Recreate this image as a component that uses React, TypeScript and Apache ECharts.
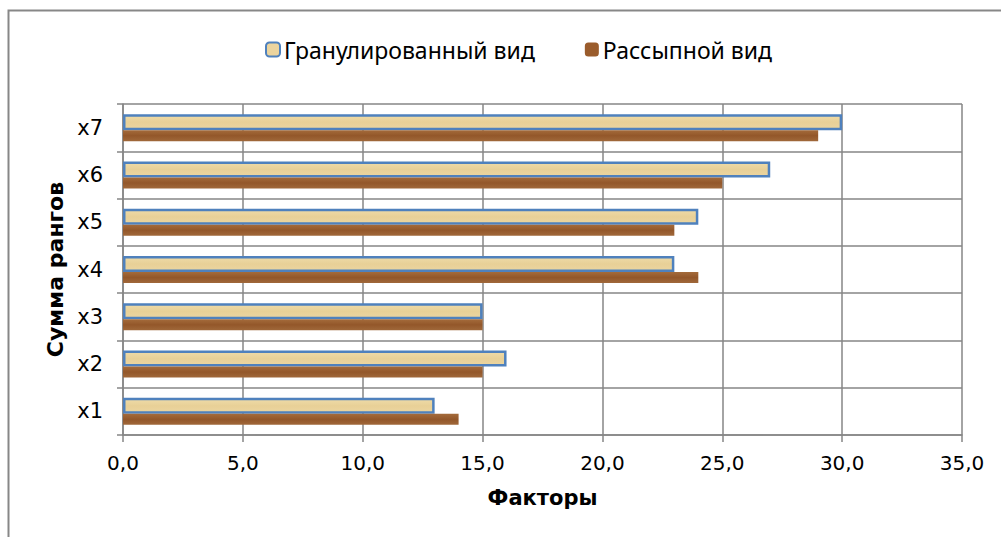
import React, { useEffect, useRef } from "react";
import * as echarts from "echarts";

const categories = ["x1", "x2", "x3", "x4", "x5", "x6", "x7"];
const granulated = [13, 16, 15, 23, 24, 27, 30];
const loose = [14, 15, 15, 24, 23, 25, 29];
const seriesNames = ["Гранулированный вид", "Рассыпной вид"];
const xAxisTitle = "Факторы";
const yAxisTitle = "Сумма рангов";

export default function App() {
  const ref = useRef<HTMLDivElement>(null);
  useEffect(() => {
    if (!ref.current) return;
    const chart = echarts.init(ref.current, undefined, { renderer: "svg" });
    const gridColor = "#868686";
    const font = "DejaVu Sans, sans-serif";
    chart.setOption({
      animation: false,
      backgroundColor: "#ffffff",
      textStyle: { fontFamily: font },
      graphic: [
        {
          type: "rect",
          shape: { x: 8.5, y: 10.5, width: 1100, height: 600 },
          style: { fill: "none", stroke: "#878787", lineWidth: 2 },
          silent: true,
        },
      ],
      legend: {
        top: 33,
        left: 260,
        itemGap: 50,
        itemWidth: 14,
        itemHeight: 14,
        textStyle: { fontSize: 23, color: "#000", fontFamily: "Noto Sans, sans-serif", padding: [0, 0, 0, -1] },
        data: [
          { name: seriesNames[0], itemStyle: { color: "#EBD49E", borderColor: "#4F81BD", borderWidth: 2 } },
          { name: seriesNames[1], itemStyle: { color: "#9A5C2C" } },
        ],
      },
      grid: { left: 123, right: 39, top: 104, bottom: 102 },
      xAxis: {
        type: "value",
        min: 0,
        max: 35,
        interval: 5,
        name: xAxisTitle,
        nameLocation: "middle",
        nameGap: 52,
        nameTextStyle: { fontSize: 21, fontWeight: "bold", color: "#000", fontFamily: font },
        axisLine: { show: true, lineStyle: { color: gridColor, width: 1.5 } },
        axisTick: { show: true, length: 7, lineStyle: { color: gridColor, width: 1.5 } },
        axisLabel: {
          fontSize: 20,
          color: "#000",
          margin: 18,
          fontFamily: font,
          formatter: (v: number) => v.toFixed(1).replace(".", ","),
        },
        splitLine: { show: true, lineStyle: { color: gridColor, width: 1.5 } },
      },
      yAxis: {
        type: "category",
        data: categories,
        name: yAxisTitle,
        nameLocation: "middle",
        nameGap: 55,
        nameTextStyle: { fontSize: 22, fontWeight: "bold", color: "#000", fontFamily: font },
        axisLine: { show: true, lineStyle: { color: gridColor, width: 1.5 } },
        axisTick: { show: true, length: 6, lineStyle: { color: gridColor, width: 1.5 } },
        axisLabel: { fontSize: 21, color: "#000", margin: 20, fontFamily: font },
        splitLine: { show: true, lineStyle: { color: gridColor, width: 1.5 } },
      },
      series: [
        {
          name: seriesNames[0],
          type: "bar",
          data: granulated,
          barWidth: 16,
          barGap: "0%",
          itemStyle: {
            color: new echarts.graphic.LinearGradient(0, 0, 0, 1, [
              { offset: 0, color: "#EEDBA8" },
              { offset: 0.5, color: "#E8D097" },
              { offset: 1, color: "#EBD5A0" },
            ]),
            borderColor: "#4F81BD",
            borderWidth: 2.5,
          },
        },
        {
          name: seriesNames[1],
          type: "bar",
          data: loose,
          barWidth: 11,
          barGap: "0%",
          itemStyle: {
            color: new echarts.graphic.LinearGradient(0, 0, 0, 1, [
              { offset: 0, color: "#A46B3B" },
              { offset: 0.5, color: "#93572A" },
              { offset: 1, color: "#A0683A" },
            ]),
          },
        },
      ],
    });
    return () => chart.dispose();
  }, []);
  return <div ref={ref} style={{ width: 1001, height: 537, position: "absolute", left: 0, top: 0 }} />;
}
